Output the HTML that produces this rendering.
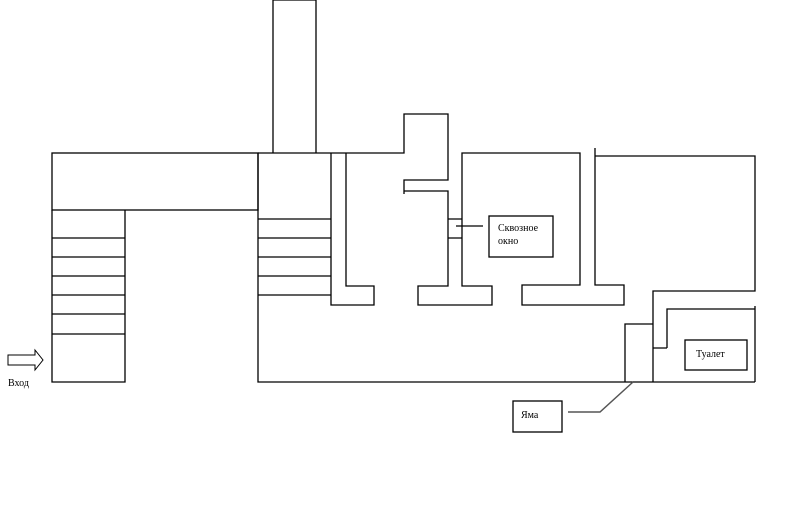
<!DOCTYPE html><html><head><meta charset="utf-8"><style>body{margin:0;background:#fff}svg{display:block}text{font-family:"Liberation Serif",serif;font-size:10px}</style></head><body>
<svg width="795" height="506" viewBox="0 0 795 506" stroke="#000" stroke-width="1.3" fill="none">
<rect x="52" y="153" width="206" height="57"/>
<path d="M52 210V382H125V210M52 238H125M52 257H125M52 276H125M52 295H125M52 314H125M52 334H125"/>
<path d="M258 153V382H755M258 219H331M258 238H331M258 257H331M258 276H331M258 295H331"/>
<path d="M273 153V0H316V153"/>
<path d="M258 153H404V114H448V180H404V194M404 191H448V286H418V305H492V286H462V153H580V285H522V305H624V285H595V148M595 156H755V291H653V382M625 382V324H653M667 348H653M667 348V309H755M755 306V382"/>
<path d="M331 153V305H374V286H346V153"/>
<path d="M448 219H462M448 238H462M456 226H483"/>
<rect x="489" y="216" width="64" height="41"/>
<rect x="685" y="340" width="62" height="30"/>
<rect x="513" y="401" width="49" height="31"/>
<path d="M568 412H600L633 382" stroke="#555" stroke-width="1.5"/>
<path d="M8 355H35V350L43 360L35 370V365H8Z" stroke-width="1"/>
<g stroke="none" fill="#000">
<text x="498" y="231">Сквозное</text><text x="498" y="244">окно</text>
<text x="696" y="357">Туалет</text>
<text x="521" y="418">Яма</text>
<text x="8" y="386">Вход</text>
</g>
</svg></body></html>
